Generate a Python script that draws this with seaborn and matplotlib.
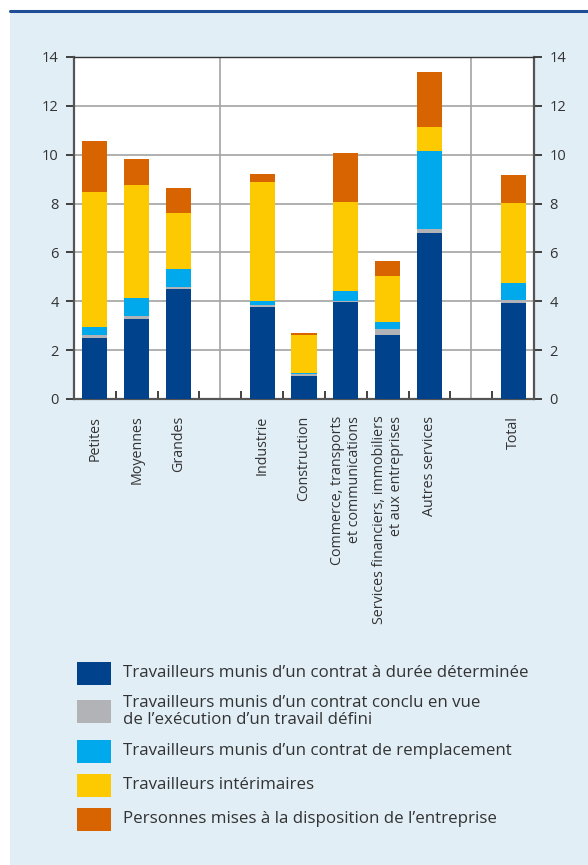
import matplotlib
matplotlib.use("Agg")
import matplotlib.pyplot as plt
from matplotlib.patches import Rectangle
from matplotlib.lines import Line2D
import seaborn as sns
import numpy as np
import pandas as pd

categories = ["Petites", "Moyennes", "Grandes", "", "Industrie", "Construction",
              "Commerce, transports\net communications",
              "Services financiers, immobiliers\net aux entreprises",
              "Autres services", " ", "Total"]
# values for non-empty categories (in order, blanks excluded)
cats_data = ["Petites", "Moyennes", "Grandes", "Industrie", "Construction",
             "Commerce, transports\net communications",
             "Services financiers, immobiliers\net aux entreprises",
             "Autres services", "Total"]
cdd = [2.51, 3.29, 4.51, 3.78, 0.95, 3.98, 2.62, 6.79, 3.93]
travail_defini = [0.11, 0.10, 0.08, 0.06, 0.07, 0.03, 0.26, 0.16, 0.12]
remplacement = [0.34, 0.75, 0.73, 0.18, 0.04, 0.42, 0.27, 3.19, 0.68]
interimaires = [5.52, 4.63, 2.29, 4.86, 1.56, 3.64, 1.88, 0.98, 3.29]
mises_dispo = [2.09, 1.05, 1.02, 0.32, 0.08, 1.99, 0.61, 2.25, 1.14]

series_names = ["Travailleurs munis d\u2019un contrat \u00e0 dur\u00e9e d\u00e9termin\u00e9e",
                "Travailleurs munis d\u2019un contrat conclu en vue\nde l\u2019ex\u00e9cution d\u2019un travail d\u00e9fini",
                "Travailleurs munis d\u2019un contrat de remplacement",
                "Travailleurs int\u00e9rimaires",
                "Personnes mises \u00e0 la disposition de l\u2019entreprise"]
colors = ["#00428C", "#B1B3B6", "#00A8EC", "#FDC900", "#D76400"]
yticks = [0, 2, 4, 6, 8, 10, 12, 14]

sns.set_theme(style="white")
plt.rcParams["font.family"] = ["Open Sans", "DejaVu Sans"]

W, H = 588, 865
fig = plt.figure(figsize=(W / 100, H / 100), dpi=100, facecolor="white")
# light blue panel and top blue line
fig.add_artist(Rectangle((10 / W, 0), 1 - 10 / W, 1 - 11 / H, transform=fig.transFigure,
                         facecolor="#E1EEF6", edgecolor="none", zorder=-10))
fig.add_artist(Line2D([10 / W, 1], [1 - 11 / H, 1 - 11 / H], transform=fig.transFigure,
                      color="#1F4E96", lw=2.2, zorder=-5))

ax = fig.add_axes([74 / W, 1 - 399 / H, (534 - 74) / W, (399 - 57) / H])
ax.set_facecolor("white")

series = [cdd, travail_defini, remplacement, interimaires, mises_dispo]
cum = np.cumsum(np.array(series), axis=0)
for i in range(len(series) - 1, -1, -1):
    df = pd.DataFrame({"cat": cats_data, "val": cum[i]})
    sns.barplot(data=df, x="cat", y="val", order=categories, color=colors[i],
                saturation=1, width=0.6, ax=ax, linewidth=0, zorder=3)

ax.set_xlim(-0.5, 10.5)
ax.set_ylim(0, 14)
ax.set_xlabel("")
ax.set_ylabel("")

for y in yticks[1:-1]:
    ax.axhline(y, color="#A3A3A3", lw=1.2, zorder=1)
for x in [3, 9]:
    ax.axvline(x, color="#A3A3A3", lw=1.2, zorder=1)

for s in ["left", "right", "bottom", "top"]:
    ax.spines[s].set_visible(True)
    ax.spines[s].set_color("#555555")
    ax.spines[s].set_linewidth(1.6)
ax.spines["top"].set_color("#333333")
ax.spines["top"].set_linewidth(1.0)

ax.set_yticks(yticks)
ax.set_yticklabels([str(v) for v in yticks])
ax.tick_params(axis="y", which="major", left=True, right=True, labelleft=True, labelright=True,
               direction="out", length=6, width=1.3, color="#333333", labelsize=10.5,
               labelcolor="#333333", pad=5)

ax.set_xticks(range(len(categories)))
ax.set_xticklabels(categories, rotation=90, ha="center", va="top", multialignment="right")
ax.tick_params(axis="x", which="major", length=0, labelsize=10.3, labelcolor="#333333", pad=12)
ax.set_xticks(np.arange(0.5, 10, 1.0), minor=True)
ax.tick_params(axis="x", which="minor", bottom=True, direction="in", length=6, width=1.3,
               color="#333333")

# legend
ys = [673, 711.5, 751, 785, 819]
for c, name, yc in zip(colors, series_names, ys):
    fig.add_artist(Rectangle((77 / W, 1 - (yc + 11.5) / H), 34 / W, 23 / H,
                             transform=fig.transFigure, facecolor=c, edgecolor="none"))
    fig.text(123 / W, 1 - yc / H, name, ha="left", va="center", fontsize=12.2,
             color="#333333", linespacing=1.05)

fig.savefig("out.png", dpi=100, facecolor="white")
